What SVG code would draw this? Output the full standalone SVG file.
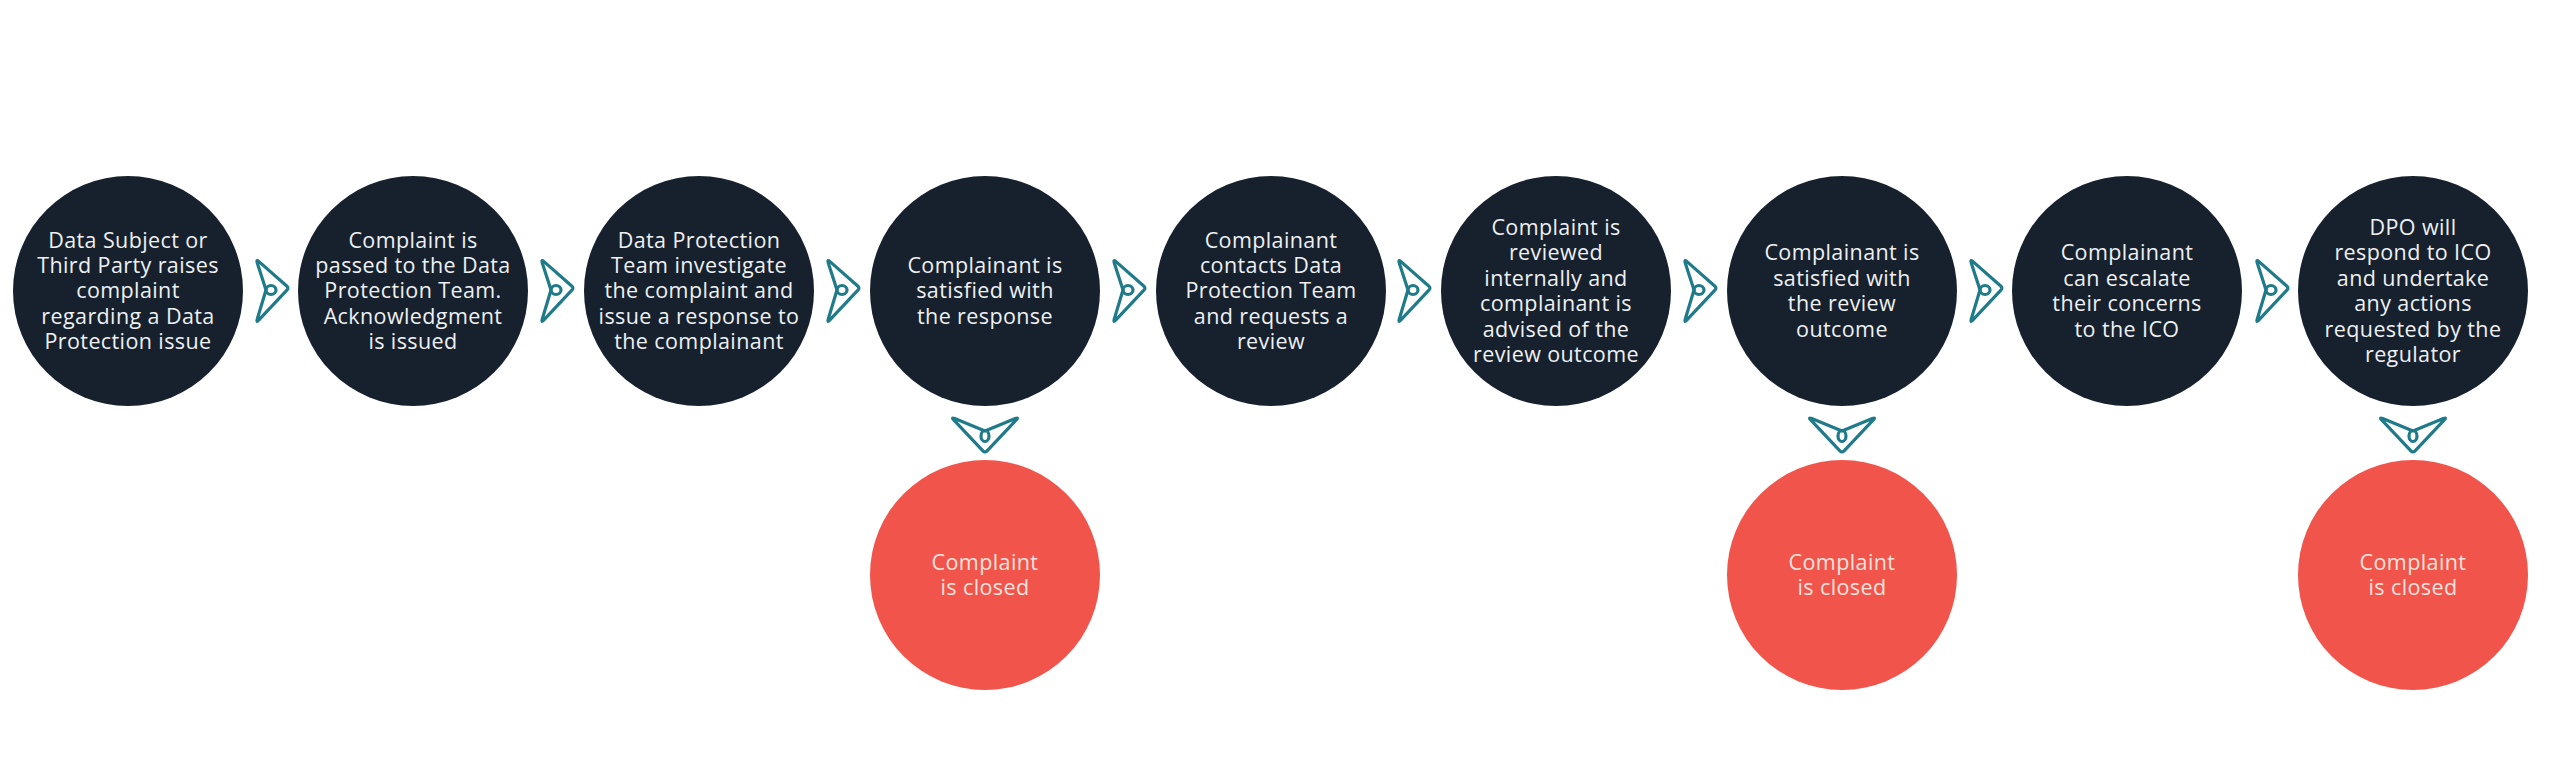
<svg xmlns="http://www.w3.org/2000/svg" xmlns:xlink="http://www.w3.org/1999/xlink" width="2560" height="769" viewBox="0 0 2560 769">
<style>
.step{fill:#17212e}
.closed{fill:#f0544a}
.t{font-family:"Open Sans","Liberation Sans",sans-serif;font-size:21.5px;fill:#eef0f2;text-anchor:middle;letter-spacing:0.4px}
.tc{font-family:"Open Sans","Liberation Sans",sans-serif;font-size:21.5px;fill:#fbe3df;text-anchor:middle;letter-spacing:0.4px}
.chev{fill:none;stroke:#1f7a8a;stroke-width:3.2;stroke-linejoin:round;stroke-linecap:round}
</style>
<defs>
<g id="chev-r">
<path class="chev" d="M -5,0 L -13.8,-27.2 Q -15,-31 -12,-28.4 L 15.7,-4 Q 18,-2 15.9,0.2 L -12.3,30.1 Q -15,33 -13.8,29.2 Z"/>
<ellipse class="chev" cx="0" cy="0" rx="5" ry="4.5"/>
</g>
<g id="chev-d">
<path class="chev" d="M 0,-5 L -30.3,-17.5 Q -34,-19 -31.3,-16.1 L -2.1,14.8 Q 0,17 2.1,14.8 L 31.3,-16.1 Q 34,-19 30.3,-17.5 Z"/>
<ellipse class="chev" cx="0" cy="0" rx="4" ry="5.5"/>
</g>
</defs>
<rect width="2560" height="769" fill="#ffffff"/>

<g id="connectors">
<use xlink:href="#chev-r" x="271" y="290"/>
<use xlink:href="#chev-r" x="556" y="290"/>
<use xlink:href="#chev-r" x="842" y="290"/>
<use xlink:href="#chev-r" x="1128" y="290"/>
<use xlink:href="#chev-r" x="1413" y="290"/>
<use xlink:href="#chev-r" x="1699" y="290"/>
<use xlink:href="#chev-r" x="1985" y="290"/>
<use xlink:href="#chev-r" x="2271" y="290"/>
<use xlink:href="#chev-d" x="985" y="436"/>
<use xlink:href="#chev-d" x="1842" y="436"/>
<use xlink:href="#chev-d" x="2413" y="436"/>
</g>

<g id="step1">
<circle class="step" cx="128" cy="291" r="115"/>
<text class="t"><tspan x="128" y="248">Data Subject or</tspan><tspan x="128" y="273">Third Party raises</tspan><tspan x="128" y="298">complaint</tspan><tspan x="128" y="324">regarding a Data</tspan><tspan x="128" y="349">Protection issue</tspan></text>
</g>
<g id="step2">
<circle class="step" cx="413" cy="291" r="115"/>
<text class="t"><tspan x="413" y="248">Complaint is</tspan><tspan x="413" y="273">passed to the Data</tspan><tspan x="413" y="298">Protection Team.</tspan><tspan x="413" y="324">Acknowledgment</tspan><tspan x="413" y="349">is issued</tspan></text>
</g>
<g id="step3">
<circle class="step" cx="699" cy="291" r="115"/>
<text class="t"><tspan x="699" y="248">Data Protection</tspan><tspan x="699" y="273">Team investigate</tspan><tspan x="699" y="298">the complaint and</tspan><tspan x="699" y="324">issue a response to</tspan><tspan x="699" y="349">the complainant</tspan></text>
</g>
<g id="step4">
<circle class="step" cx="985" cy="291" r="115"/>
<text class="t"><tspan x="985" y="273">Complainant is</tspan><tspan x="985" y="298">satisfied with</tspan><tspan x="985" y="324">the response</tspan></text>
</g>
<g id="step5">
<circle class="step" cx="1271" cy="291" r="115"/>
<text class="t"><tspan x="1271" y="248">Complainant</tspan><tspan x="1271" y="273">contacts Data</tspan><tspan x="1271" y="298">Protection Team</tspan><tspan x="1271" y="324">and requests a</tspan><tspan x="1271" y="349">review</tspan></text>
</g>
<g id="step6">
<circle class="step" cx="1556" cy="291" r="115"/>
<text class="t"><tspan x="1556" y="235">Complaint is</tspan><tspan x="1556" y="260">reviewed</tspan><tspan x="1556" y="286">internally and</tspan><tspan x="1556" y="311">complainant is</tspan><tspan x="1556" y="337">advised of the</tspan><tspan x="1556" y="362">review outcome</tspan></text>
</g>
<g id="step7">
<circle class="step" cx="1842" cy="291" r="115"/>
<text class="t"><tspan x="1842" y="260">Complainant is</tspan><tspan x="1842" y="286">satisfied with</tspan><tspan x="1842" y="311">the review</tspan><tspan x="1842" y="337">outcome</tspan></text>
</g>
<g id="step8">
<circle class="step" cx="2127" cy="291" r="115"/>
<text class="t"><tspan x="2127" y="260">Complainant</tspan><tspan x="2127" y="286">can escalate</tspan><tspan x="2127" y="311">their concerns</tspan><tspan x="2127" y="337">to the ICO</tspan></text>
</g>
<g id="step9">
<circle class="step" cx="2413" cy="291" r="115"/>
<text class="t"><tspan x="2413" y="235">DPO will</tspan><tspan x="2413" y="260">respond to ICO</tspan><tspan x="2413" y="286">and undertake</tspan><tspan x="2413" y="311">any actions</tspan><tspan x="2413" y="337">requested by the</tspan><tspan x="2413" y="362">regulator</tspan></text>
</g>

<g id="closed1">
<circle class="closed" cx="985" cy="575" r="115"/>
<text class="tc"><tspan x="985" y="570">Complaint</tspan><tspan x="985" y="595">is closed</tspan></text>
</g>
<g id="closed2">
<circle class="closed" cx="1842" cy="575" r="115"/>
<text class="tc"><tspan x="1842" y="570">Complaint</tspan><tspan x="1842" y="595">is closed</tspan></text>
</g>
<g id="closed3">
<circle class="closed" cx="2413" cy="575" r="115"/>
<text class="tc"><tspan x="2413" y="570">Complaint</tspan><tspan x="2413" y="595">is closed</tspan></text>
</g>
</svg>
